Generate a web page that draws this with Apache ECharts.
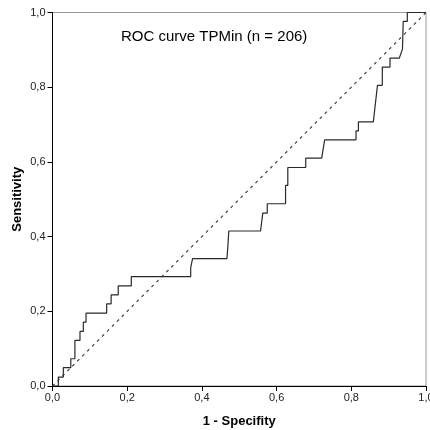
<!DOCTYPE html>
<html>
<head>
<meta charset="utf-8">
<script src="https://cdn.jsdelivr.net/npm/echarts@6/dist/echarts.min.js"></script>
<style>html,body{margin:0;padding:0;background:#fff}#c{width:430px;height:430px}</style>
</head>
<body>
<div id="c"></div>
<script>
var titleText = 'ROC curve TPMin (n = 206)';
var xName = '1 - Specifity';
var yName = 'Sensitivity';
var tickValues = [0, 0.2, 0.4, 0.6, 0.8, 1.0];

// ROC curve points (1 - specificity, sensitivity)
var fpr = [0, 0.0156, 0.0156, 0.029, 0.029, 0.049, 0.049, 0.060, 0.060, 0.0736, 0.0736, 0.0825, 0.0825, 0.0897, 0.0897,
  0.145, 0.145, 0.157, 0.157, 0.176, 0.176, 0.211, 0.211, 0.370, 0.370, 0.375, 0.375, 0.467, 0.469, 0.472,
  0.557, 0.563, 0.575, 0.575, 0.624, 0.624, 0.630, 0.630, 0.678, 0.678, 0.7207, 0.7287, 0.8126, 0.8126, 0.819, 0.819,
  0.859, 0.870, 0.883, 0.883, 0.9036, 0.9036, 0.9286, 0.937, 0.939, 0.950, 0.950, 1.0];
var tpr = [0, 0, 0.024, 0.024, 0.049, 0.049, 0.073, 0.073, 0.122, 0.122, 0.146, 0.146, 0.171, 0.171, 0.195,
  0.195, 0.220, 0.220, 0.244, 0.244, 0.268, 0.268, 0.293, 0.293, 0.317, 0.317, 0.341, 0.341, 0.366, 0.415,
  0.415, 0.463, 0.463, 0.488, 0.488, 0.537, 0.537, 0.585, 0.585, 0.610, 0.610, 0.659, 0.659, 0.683, 0.683, 0.707,
  0.707, 0.805, 0.805, 0.854, 0.854, 0.878, 0.878, 0.902, 0.976, 0.976, 1.0, 1.0];
var refX = [0, 1];
var refY = [0, 1];

function pairs(a, b) { return a.map(function (v, i) { return [v, b[i]]; }); }
function fmt(v) { return v.toFixed(1).replace('.', ','); }

var chart = echarts.init(document.getElementById('c'), null, {renderer: 'canvas'});
var font = '"Liberation Sans", Arial, sans-serif';
var axisCommon = {
  type: 'value', min: 0, max: 1, interval: 0.2,
  nameLocation: 'middle', nameMoveOverlap: false,
  nameTextStyle: {fontFamily: font, fontWeight: 'bold', fontSize: 13, color: '#000'},
  axisLine: {show: true, lineStyle: {color: '#000', width: 1}},
  axisTick: {show: true, length: 5, lineStyle: {color: '#000'}},
  splitLine: {show: false},
  axisLabel: {fontFamily: font, fontSize: 11, color: '#222', formatter: fmt}
};
chart.setOption({
  animation: false,
  backgroundColor: '#fff',
  grid: {left: 52.5, right: 4, top: 12.5, bottom: 44, show: true, borderColor: '#999', borderWidth: 1,
    containLabel: false, outerBoundsMode: 'none'},
  xAxis: Object.assign({}, axisCommon, {name: xName, nameGap: 29, axisLabel: Object.assign({}, axisCommon.axisLabel, {margin: 6})}),
  yAxis: Object.assign({}, axisCommon, {name: yName, nameGap: 29, axisLabel: Object.assign({}, axisCommon.axisLabel, {margin: 7})}),
  graphic: [{type: 'text', left: 121, top: 29, style: {text: titleText, font: '15px ' + font, fill: '#000'}}],
  series: [
    {type: 'line', data: pairs(refX, refY), showSymbol: false, symbol: 'none', silent: true,
      lineStyle: {color: '#444', width: 1.2, type: [3, 4]}},
    {type: 'line', data: pairs(fpr, tpr), showSymbol: false, symbol: 'none', silent: true,
      lineStyle: {color: '#2a2a2a', width: 1.2}}
  ]
});
</script>
</body>
</html>
